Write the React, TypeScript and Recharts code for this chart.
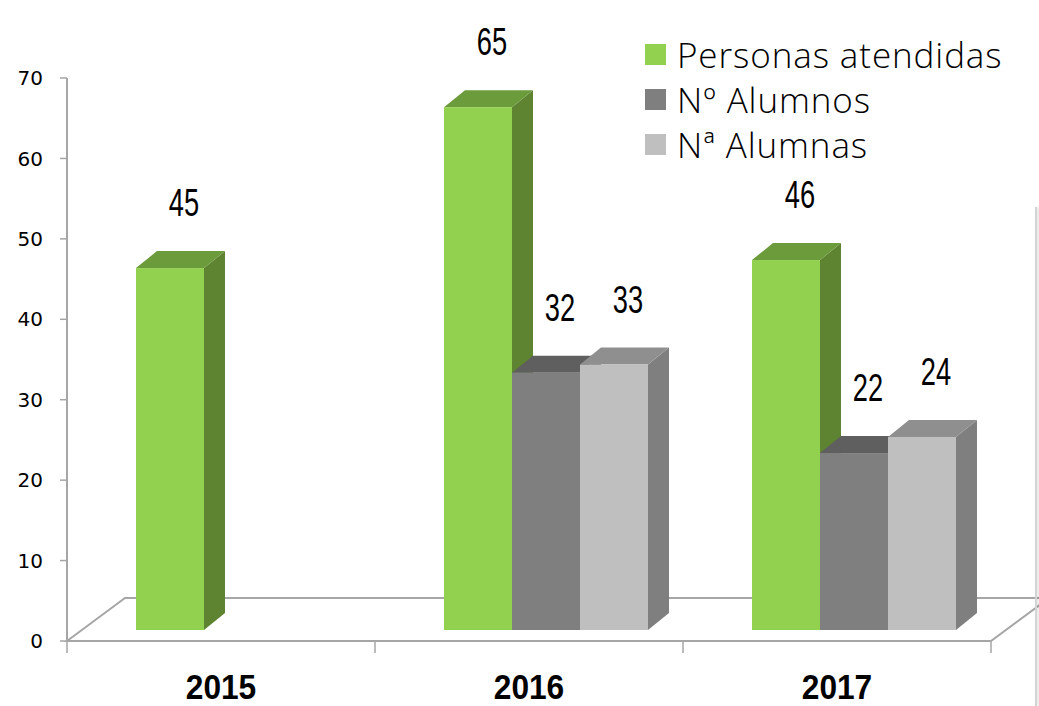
import React from "react";
import { BarChart, Bar, XAxis, YAxis, LabelList, Customized } from "recharts";

// años y valores
const years = ["2015", "2016", "2017"];
const personas = [45, 65, 46];
const alumnos = [null, 32, 22];
const alumnas = [null, 33, 24];
const yTicks = [0, 10, 20, 30, 40, 50, 60, 70];

const series = [
  { key: "personas", name: "Personas atendidas", front: "#92D050", top: "#6C9B3C", side: "#5E8431" },
  { key: "alumnos", name: "Nº Alumnos", front: "#7F7F7F", top: "#5F5F5F", side: "#6E6E6E" },
  { key: "alumnas", name: "Nª Alumnas", front: "#BFBFBF", top: "#8F8F8F", side: "#7F7F7F" },
];

const data = years.map((year, i) => ({
  year,
  personas: personas[i],
  alumnos: alumnos[i],
  alumnas: alumnas[i],
}));

const W = 1039;
const H = 706;
const PLOT_LEFT = 67;
const PLOT_RIGHT = 991;
const PLOT_TOP = 78;
const PLOT_BOTTOM = 641;
const BAND = (PLOT_RIGHT - PLOT_LEFT) / years.length;

// efecto 3D
const SHIFT_X = 17;
const SHIFT_Y = 11;
const DEPTH_X = 21;
const DEPTH_Y = 17;
const FLOOR_DX = 58;
const FLOOR_DY = 43;
const AXIS_GRAY = "#A6A6A6";

const make3DShape = (s: (typeof series)[number]) => (props: any) => {
  const { x, y, width, height, value } = props;
  if (value == null || !width || height == null) return <g />;
  const fx = x + SHIFT_X;
  const fy = y - SHIFT_Y;
  const h = height;
  const w = width;
  return (
    <g>
      <polygon
        points={`${fx + w},${fy} ${fx + w + DEPTH_X},${fy - DEPTH_Y} ${fx + w + DEPTH_X},${fy + h - DEPTH_Y} ${fx + w},${fy + h}`}
        fill={s.side}
      />
      <polygon
        points={`${fx},${fy} ${fx + w},${fy} ${fx + w + DEPTH_X},${fy - DEPTH_Y} ${fx + DEPTH_X},${fy - DEPTH_Y}`}
        fill={s.top}
      />
      <rect x={fx} y={fy} width={w} height={h} fill={s.front} />
    </g>
  );
};

const renderValue = (props: any) => {
  const { x, y, width, value } = props;
  if (value == null) return null;
  const cx = x + width / 2 + SHIFT_X + 14;
  const base = y - SHIFT_Y - 52;
  return (
    <text
      transform={`translate(${cx},${base}) scale(0.7,1)`}
      textAnchor="middle"
      fontSize={39}
      fontFamily="'Liberation Sans', sans-serif"
      fill="#000"
    >
      {value}
    </text>
  );
};

const Floor = () => (
  <g>
    <polygon
      points={`${PLOT_LEFT},${PLOT_BOTTOM} ${PLOT_LEFT + FLOOR_DX},${PLOT_BOTTOM - FLOOR_DY} ${PLOT_RIGHT + FLOOR_DX},${PLOT_BOTTOM - FLOOR_DY} ${PLOT_RIGHT},${PLOT_BOTTOM}`}
      fill="none"
      stroke={AXIS_GRAY}
      strokeWidth={2}
    />
  </g>
);

const YearTick = (props: any) => {
  const { x, payload, index } = props;
  const left = x - BAND / 2;
  return (
    <g>
      <line x1={left} y1={PLOT_BOTTOM} x2={left} y2={PLOT_BOTTOM + 12} stroke={AXIS_GRAY} strokeWidth={1.5} />
      {index === years.length - 1 && (
        <line x1={x + BAND / 2} y1={PLOT_BOTTOM} x2={x + BAND / 2} y2={PLOT_BOTTOM + 12} stroke={AXIS_GRAY} strokeWidth={1.5} />
      )}
      <text
        transform={`translate(${x},699) scale(0.88,1)`}
        textAnchor="middle"
        fontSize={36}
        fontWeight="bold"
        fontFamily="'Liberation Sans', sans-serif"
        fill="#000"
      >
        {payload.value}
      </text>
    </g>
  );
};

export default function App() {
  return (
    <div style={{ position: "absolute", left: 0, top: 0, width: W, height: H, background: "#fff", overflow: "hidden" }}>
      <BarChart
        width={W}
        height={H}
        data={data}
        margin={{ top: PLOT_TOP, right: W - PLOT_RIGHT, left: 0, bottom: 0 }}
        barCategoryGap={52}
        barGap={0}
      >
        <Customized component={Floor} />
        <XAxis
          dataKey="year"
          axisLine={false}
          tickLine={false}
          height={H - PLOT_BOTTOM}
          tick={<YearTick />}
          interval={0}
        />
        <YAxis
          width={PLOT_LEFT}
          domain={[0, 70]}
          ticks={yTicks}
          interval={0}
          axisLine={{ stroke: AXIS_GRAY, strokeWidth: 2 }}
          tickLine={{ stroke: AXIS_GRAY, strokeWidth: 1.5 }}
          tickSize={7}
          tickMargin={17}
          tick={{ fill: "#000", fontSize: 20, fontFamily: "'DejaVu Sans', sans-serif" }}
        />
        {series.map((s) => (
          <Bar key={s.key} dataKey={s.key} name={s.name} shape={make3DShape(s)} isAnimationActive={false}>
            <LabelList dataKey={s.key} content={renderValue} />
          </Bar>
        ))}
      </BarChart>

      <div style={{ position: "absolute", left: 645, top: 32, fontFamily: "'Open Sans', sans-serif", fontWeight: 300 }}>
        {series.map((s) => (
          <div key={s.key} style={{ display: "flex", alignItems: "center", height: 45 }}>
            <div style={{ width: 21, height: 21, background: s.front, marginRight: 11 }} />
            <span style={{ fontSize: 35, color: "#000", lineHeight: "45px", letterSpacing: 0.9 }}>{s.name}</span>
          </div>
        ))}
      </div>

      <div
        style={{
          position: "absolute",
          left: 1035,
          top: 207,
          width: 2,
          height: H - 207,
          background: "#D4D4D4",
          boxShadow: "2px 0 3px rgba(0,0,0,0.15)",
        }}
      />
    </div>
  );
}
